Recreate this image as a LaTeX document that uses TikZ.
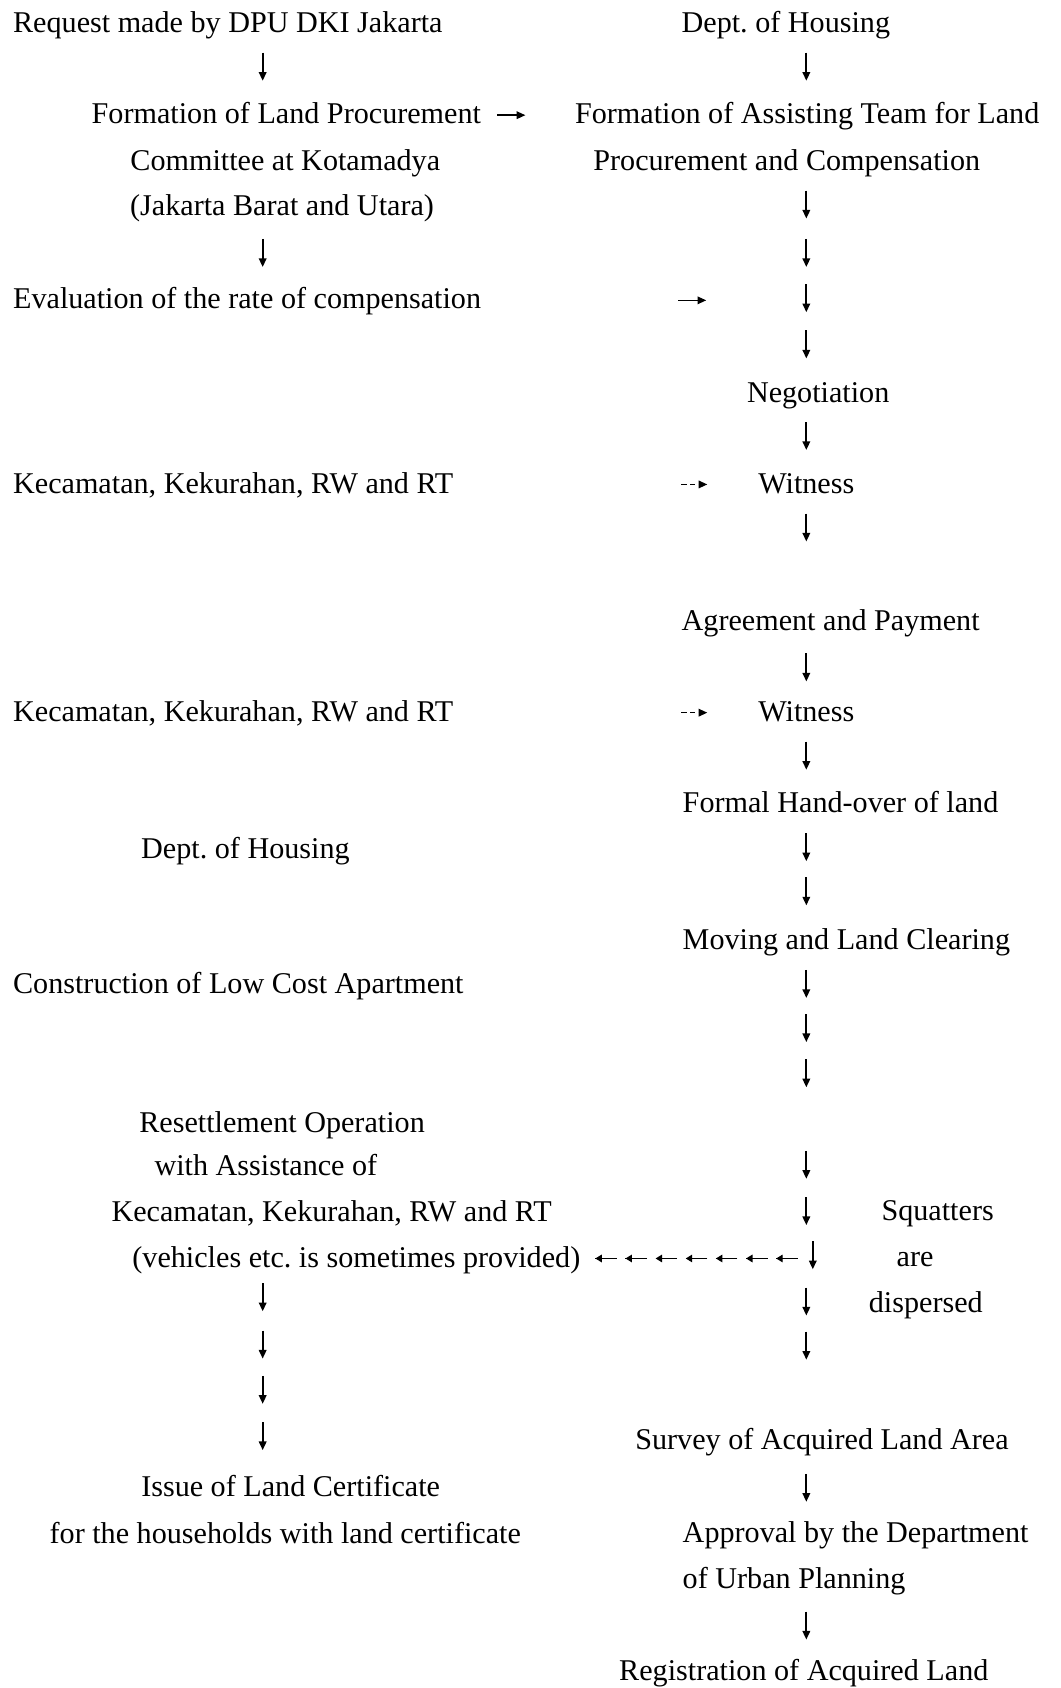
\documentclass[tikz,border=0pt]{standalone}
\usepackage{fontspec}
\setmainfont{Liberation Serif}
\frenchspacing
\usetikzlibrary{arrows.meta,decorations.markings}

\tikzset{
  darr/.pic={\draw[line width=1.6pt,-{Triangle[length=8pt,width=7pt]}] (0,-13) -- (0,13);},
  rarr/.pic={\draw[line width=1.3pt,-{Triangle[length=8pt,width=7pt]}] (-13,0) -- (13,0);},
  rdarr/.pic={\draw[line width=1.3pt,dash pattern=on 5pt off 3pt,-{Triangle[length=8pt,width=7pt]}] (-12,0) -- (12,0);}
}

\begin{document}
\begin{tikzpicture}[x=1pt,y=-1pt,
  every node/.style={inner sep=0pt,font=\fontsize{28}{43}\selectfont,text height=20pt,text depth=4pt},
  lt/.style={anchor=west},
  backarr/.style={line width=1.2pt,dash pattern=on 20pt off 8pt,postaction={decorate},
    decoration={markings,mark=between positions 20pt and 1 step 28pt with {\arrow{Triangle[length=6pt,width=7pt]}}}}]
\useasboundingbox[fill=white] (0,0) rectangle (985,1568);
% left column
\node[lt] (req) at (12,22) {Request made by DPU DKI Jakarta};
\pic at (244,62) {darr};
\node (form1) at (266,107) {Formation of Land Procurement};
\node (form2) at (265,150) {Committee at Kotamadya};
\node (form3) at (262,192) {(Jakarta Barat and Utara)};
\pic at (475,107) {rarr};
\pic at (244,235) {darr};
\node[lt] (eval) at (12,279) {Evaluation of the rate of compensation};
\pic at (643,279) {rarr};
\node[lt] (kec1) at (12,450) {Kecamatan, Kekurahan, RW and RT};
\pic at (645,450) {rdarr};
\node[lt] (kec2) at (12,662) {Kecamatan, Kekurahan, RW and RT};
\pic at (645,662) {rdarr};
\node (hous) at (228,789) {Dept. of Housing};
\node[lt] (cons) at (12,915) {Construction of Low Cost Apartment};
\node (res1) at (262,1044) {Resettlement Operation};
\node (res2) at (247,1084) {with Assistance of};
\node (res3) at (308,1127) {Kecamatan, Kekurahan, RW and RT};
\node (res4) at (331,1169) {(vehicles etc. is sometimes provided)};
\foreach \y in {1205,1249,1291,1334} \pic at (244,\y) {darr};
\node (iss1) at (270,1382) {Issue of Land Certificate};
\node (iss2) at (265,1426) {for the households with land certificate};
% right column
\node (dept) at (730,22) {Dept. of Housing};
\pic at (749,62) {darr};
\node[lt] (team1) at (534,107) {Formation of Assisting Team for Land};
\node[lt] (team2) at (551,150) {Procurement and Compensation};
\foreach \y in {190,235,277,320} \pic at (749,\y) {darr};
\node (nego) at (760,366) {Negotiation};
\pic at (749,405) {darr};
\node (wit1) at (749,450) {Witness};
\pic at (749,490) {darr};
\node[lt] (agree) at (633,578) {Agreement and Payment};
\pic at (749,620) {darr};
\node (wit2) at (749,662) {Witness};
\pic at (749,702) {darr};
\node[lt] (hand) at (634,747) {Formal Hand-over of land};
\foreach \y in {787,828} \pic at (749,\y) {darr};
\node[lt] (move) at (634,874) {Moving and Land Clearing};
\foreach \y in {914,955,997,1082,1125,1209,1250} \pic at (749,\y) {darr};
\pic at (755,1166) {darr};
\coordinate (disp) at (741,1169);
\draw[backarr] (disp) -- ([xshift=6pt]res4.east);
\node (squ1) at (871,1126) {Squatters};
\node (squ2) at (850,1168) {are};
\node (squ3) at (860,1211) {dispersed};
\node[lt] (surv) at (590,1338) {Survey of Acquired Land Area};
\pic at (749,1382) {darr};
\node[lt] (appr1) at (634,1425) {Approval by the Department};
\node[lt] (appr2) at (634,1468) {of Urban Planning};
\pic at (749,1510) {darr};
\node[lt] (regi) at (575,1553) {Registration of Acquired Land};
\end{tikzpicture}
\end{document}
